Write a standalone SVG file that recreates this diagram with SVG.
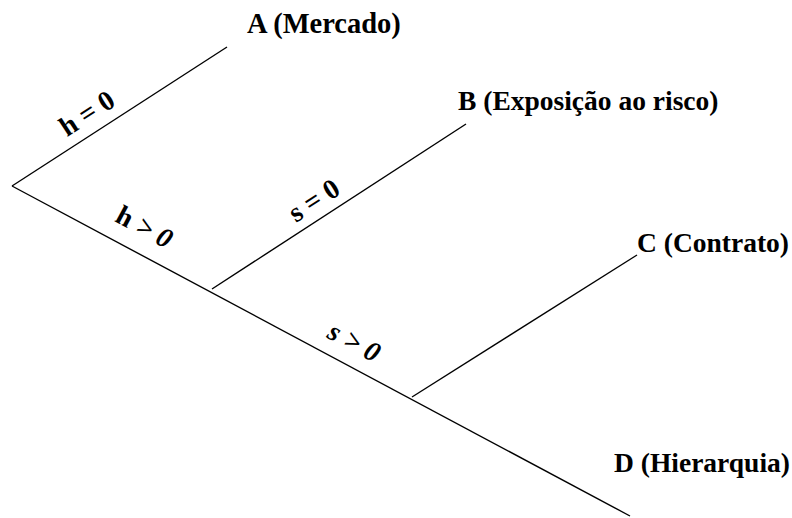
<svg xmlns="http://www.w3.org/2000/svg" width="792" height="518" viewBox="0 0 792 518">
<style>
.ln{stroke:#000;stroke-width:1.4;fill:none}
.lb{font-family:"Liberation Serif","Times New Roman",serif;font-weight:bold;font-size:27.5px;fill:#000}
.el{font-family:"Liberation Serif","Times New Roman",serif;font-weight:bold;font-size:28px;fill:#000}
.it{font-style:italic}
</style>
<rect width="792" height="518" fill="#fff"/>
<g id="connectors">
<line class="ln" x1="227" y1="47" x2="12" y2="186"/>
<line class="ln" x1="12" y1="186" x2="630" y2="516"/>
<line class="ln" x1="212" y1="289" x2="466" y2="124"/>
<line class="ln" x1="412" y1="397" x2="637" y2="255"/>
</g>
<g id="edge-labels">
<text class="el" transform="translate(92,121) rotate(-33)" text-anchor="middle">h = 0</text>
<text class="el" transform="translate(140,235) rotate(28)" text-anchor="middle">h <tspan class="it">&gt; 0</tspan></text>
<text class="el" transform="translate(319,208) rotate(-33)" text-anchor="middle">s = 0</text>
<text class="el it" transform="translate(350,350) rotate(28)" text-anchor="middle">s &gt; 0</text>
</g>
<g id="nodeA"><text class="lb" x="247" y="33" style="font-size:28.5px">A (Mercado)</text></g>
<g id="nodeB"><text class="lb" x="458" y="110">B (Exposição ao risco)</text></g>
<g id="nodeC"><text class="lb" x="637" y="252">C (Contrato)</text></g>
<g id="nodeD"><text class="lb" x="614" y="472">D (Hierarquia)</text></g>
</svg>
